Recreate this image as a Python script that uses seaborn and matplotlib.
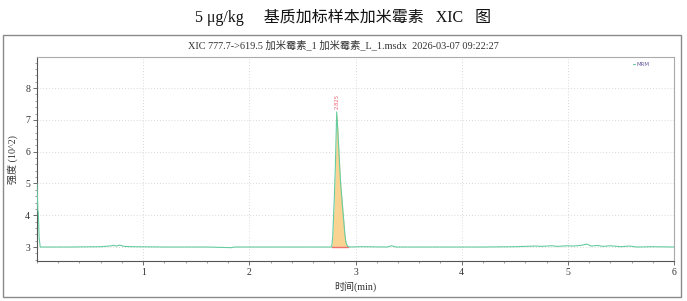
import numpy as np
import pandas as pd
import matplotlib
matplotlib.use("Agg")
import matplotlib.pyplot as plt
import seaborn as sns
from matplotlib.patches import Rectangle

sns.set_theme(style="white")
plt.rcParams['font.family'] = ['Liberation Serif', 'Noto Sans CJK SC', 'DejaVu Sans']
plt.rcParams['axes.unicode_minus'] = False

# ---- data (time in min, intensity in 10^2) ----
time_min = [0.0, 0.008, 0.012, 0.02, 0.03, 0.3, 0.6, 0.68, 0.72, 0.75, 0.78, 0.82, 0.9,
            1.2, 1.6, 1.83, 1.86, 2.2, 2.6, 2.75,
            2.775, 2.785, 2.80, 2.81, 2.823, 2.835, 2.85, 2.86, 2.875, 2.885, 2.90, 2.91, 2.925,
            2.95, 3.05, 3.3, 3.34, 3.38, 3.7, 4.2, 4.5, 4.7, 4.75, 4.85, 4.9, 5.0, 5.05,
            5.12, 5.18, 5.22, 5.28, 5.33, 5.4, 5.5, 5.58, 5.65, 5.8, 6.0]
intensity = [5.0, 4.15, 4.1, 3.3, 3.0, 3.0, 3.01, 3.03, 3.05, 3.03, 3.06, 3.02, 3.01,
             3.0, 3.0, 2.98, 3.0, 3.0, 3.0, 3.0,
             3.0, 3.3, 4.5, 5.5, 7.25, 6.6, 5.6, 5.0, 4.4, 4.0, 3.4, 3.15, 3.02,
             3.0, 3.01, 3.0, 3.04, 3.0, 3.0, 3.0, 3.01, 3.03, 3.02, 3.04, 3.02, 3.04, 3.03,
             3.05, 3.09, 3.03, 3.05, 3.02, 3.04, 3.01, 3.03, 3.0, 3.01, 3.0]
peak_rt = 2.825
peak_start, peak_end = 2.775, 2.925
baseline_level = 3.0

df = pd.DataFrame({"time": time_min, "intensity": intensity})

fig = plt.figure(figsize=(6.87, 3.01), dpi=100)
W, H = 687, 301
# axes box in pixels: left 37, right 674, top 57, bottom 261
ax = fig.add_axes([37 / W, 1 - 261 / H, (674 - 37) / W, (261 - 57) / H])

# outer frame
fig.patches.append(Rectangle((3 / W, 1 - 297 / H), (681 - 3) / W, (297 - 35) / H,
                             transform=fig.transFigure, fill=False,
                             edgecolor="#8a8a8a", linewidth=1.0))

line_color = "#66cc9f"
fill_color = "#f8d391"

# peak fill
mask = (df["time"] >= peak_start) & (df["time"] <= peak_end)
ax.fill_between(df["time"][mask], baseline_level, df["intensity"][mask],
                color=fill_color, linewidth=0, zorder=2)
ax.plot([peak_start, peak_end], [baseline_level, baseline_level],
        color="#f07070", linewidth=1.0, zorder=2.5)

sns.lineplot(data=df, x="time", y="intensity", ax=ax, color=line_color,
             linewidth=0.8, label="MRM", zorder=3)

ax.text(peak_rt, 7.35, f"{peak_rt:.3f}", rotation=90, color="#ee6677",
        fontsize=3.8, ha="center", va="bottom", family="DejaVu Sans")

ax.set_xlim(0, 6)
ax.set_ylim(2.56, 8.98)
ax.set_xticks([1, 2, 3, 4, 5, 6])
ax.set_yticks([3, 4, 5, 6, 7, 8])
ax.set_xticks(np.arange(0, 6.01, 0.2), minor=True)
ax.set_yticks(np.arange(2.6, 8.99, 0.2), minor=True)
ax.tick_params(axis="both", which="major", labelsize=7, length=3, width=0.6,
               color="#555555", labelcolor="#333333", direction="out", pad=2,
               bottom=True, left=True)
ax.tick_params(axis="both", which="minor", length=1.5, width=0.5, color="#777777",
               direction="out", bottom=True, left=True)
ax.grid(True, which="major", linestyle=(0, (1, 2.5)), color="#cccccc", linewidth=0.6)

for side in ["left", "bottom"]:
    ax.spines[side].set_color("#555555")
    ax.spines[side].set_linewidth(0.8)
for side in ["top", "right"]:
    ax.spines[side].set_color("#aaaaaa")
    ax.spines[side].set_linewidth(0.8)

ax.set_xlabel("时间(min)", fontsize=7.2, color="#333333", labelpad=3)
ax.set_ylabel("强度 (10^2)", fontsize=7.2, color="#333333", labelpad=5)

leg = ax.legend(loc="upper right", bbox_to_anchor=(0.965, 0.985), frameon=False,
                handlelength=0.4, handletextpad=0.3, borderaxespad=0.0,
                labelcolor="#6a5a9a", prop={"family": "DejaVu Sans", "size": 4})

fig.text(0.5, 1 - 17 / H, "5 μg/kg     基质加标样本加米霉素   XIC   图", ha="center",
         va="center", fontsize=11.5, color="#111111")
fig.text(0.5, 1 - 45 / H,
         "XIC 777.7->619.5 加米霉素_1 加米霉素_L_1.msdx  2026-03-07 09:22:27",
         ha="center", va="center", fontsize=7.4, color="#333333")

fig.savefig("out.png", dpi=100)
